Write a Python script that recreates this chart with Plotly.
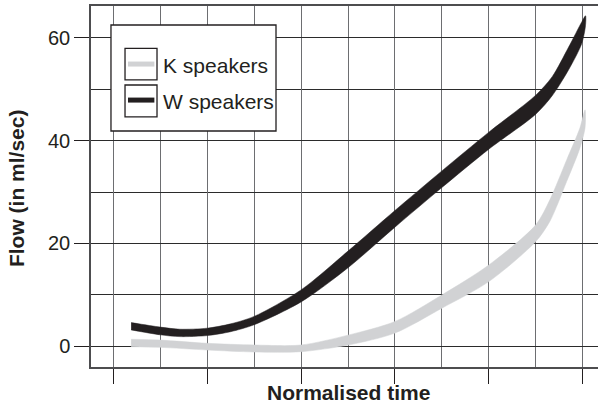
import plotly.graph_objects as go

# ---- data ----
# Normalised time positions (grid units 0..10)
K_x = [0.38, 1.0, 2.0, 3.0, 4.0, 5.0, 6.0, 7.0, 8.0, 9.0, 9.3, 9.66, 9.94, 10.05]
K_upper = [1.36, 1.21, 0.58, 0.25, 0.25, 2.17, 4.83, 9.99, 15.82, 23.62, 28.5, 36.3, 42.45, 46.0]
K_lower = [-0.08, -0.21, -0.72, -1.11, -1.05, 0.23, 2.57, 7.41, 12.58, 20.38, 24.3, 32.1, 38.55, 42.5]

W_x = [0.38, 1.0, 1.42, 2.0, 2.5, 3.0, 4.0, 5.0, 6.0, 7.0, 8.0, 9.0, 9.35, 9.7, 9.98, 10.06]
W_upper = [4.61, 3.73, 3.32, 3.52, 4.36, 5.81, 10.97, 18.52, 26.42, 34.12, 41.65, 48.85, 52.45, 58.2, 63.1, 64.3]
W_lower = [3.19, 2.23, 1.88, 2.08, 2.84, 4.19, 8.63, 15.28, 23.18, 30.88, 38.35, 45.15, 48.75, 53.8, 58.9, 62.4]

y_tickvals = [0, 20, 40, 60]
y_ticktext = ["0", "20", "40", "60"]
x_tickvals = [0, 2, 4, 6, 8, 10]

series_names = ["K speakers", "W speakers"]
K_color = "#d1d2d4"
W_color = "#231f20"

FONT = "Liberation Sans, Arial, Helvetica, sans-serif"
INK = "#231f20"

fig = go.Figure()

fig.add_trace(go.Scatter(
    x=K_x + K_x[::-1], y=K_upper + K_lower[::-1],
    fill="toself", fillcolor=K_color, mode="lines",
    line=dict(color=K_color, width=0.5, shape="spline", smoothing=0.8),
    showlegend=False, hoverinfo="skip"))
fig.add_trace(go.Scatter(
    x=W_x + W_x[::-1], y=W_upper + W_lower[::-1],
    fill="toself", fillcolor=W_color, mode="lines",
    line=dict(color=W_color, width=0.5, shape="spline", smoothing=0.8),
    showlegend=False, hoverinfo="skip"))

fig.update_layout(
    width=598, height=404,
    margin=dict(l=91, r=0, t=6, b=37, pad=0),
    paper_bgcolor="white", plot_bgcolor="white",
    font=dict(family=FONT, color=INK, size=20),
    showlegend=False,
)

fig.update_xaxes(
    range=[-0.475, 10.326],
    tickvals=x_tickvals, ticktext=[""] * len(x_tickvals),
    ticks="outside", ticklen=15, tickwidth=1.2, tickcolor=INK,
    showgrid=True, gridcolor="#6d6e71", gridwidth=1.2,
    minor=dict(dtick=1, tick0=0, showgrid=True, gridcolor="#6d6e71", gridwidth=1.2, ticks=""),
    showline=True, linecolor="#4d4d4f", linewidth=1.5, mirror=True,
    zeroline=False,
)
fig.update_yaxes(
    range=[-4.03, 66.2],
    tickvals=y_tickvals, ticktext=y_ticktext,
    ticks="outside", ticklen=15, tickwidth=1.2, tickcolor=INK,
    tickfont=dict(size=20, color=INK, family=FONT),
    showgrid=True, gridcolor="#2b2b2b", gridwidth=1.2,
    minor=dict(dtick=10, tick0=0, showgrid=True, gridcolor="#2b2b2b", gridwidth=1.2, ticks=""),
    showline=True, linecolor="#4d4d4f", linewidth=1.5, mirror=False,
    zeroline=False,
)

# axis titles
fig.add_annotation(text="<b>Normalised time</b>", xref="paper", yref="paper",
                   x=0.5075, y=-0.070, xanchor="center", yanchor="middle",
                   showarrow=False, font=dict(size=21, color=INK, family=FONT))
fig.add_annotation(text="<b>Flow (in ml/sec)</b>", xref="paper", yref="paper",
                   x=-0.147, y=0.497, xanchor="center", yanchor="middle", textangle=-90,
                   showarrow=False, font=dict(size=21, color=INK, family=FONT))

# custom legend (boxed entries)
fig.add_shape(type="rect", xref="paper", yref="paper", x0=0.0394, x1=0.3649, y0=0.6537, y1=0.9473,
              line=dict(color=INK, width=1.3), fillcolor="white", layer="above")
boxes = [(0.8827, 0.7951, 0.8392, K_color, 0.8364), (0.7812, 0.6931, 0.7394, W_color, 0.7366)]
for (yt, yb, yl, col, ytext), name in zip(boxes, series_names):
    fig.add_shape(type="rect", xref="paper", yref="paper", x0=0.0671, x1=0.1302, y0=yb, y1=yt,
                  line=dict(color=INK, width=1.3), fillcolor="white", layer="above")
    fig.add_shape(type="line", xref="paper", yref="paper", x0=0.0730, x1=0.1250, y0=yl, y1=yl,
                  line=dict(color=col, width=5), layer="above")
    fig.add_annotation(text=name, xref="paper", yref="paper", x=0.1381, y=ytext,
                       xanchor="left", yanchor="middle", showarrow=False,
                       font=dict(size=21, color=INK, family=FONT))

fig.write_html("out.html")
